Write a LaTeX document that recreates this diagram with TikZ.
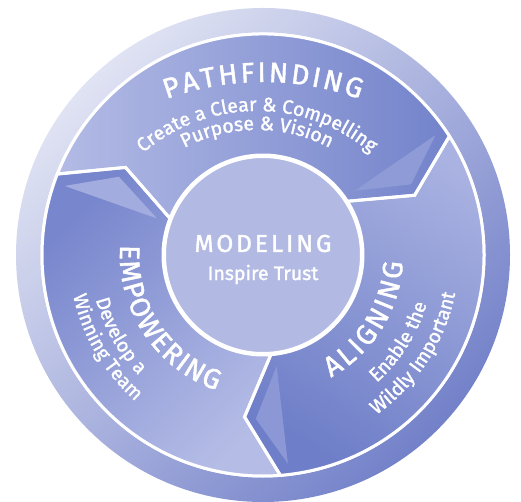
\documentclass[tikz,border=0pt]{standalone}
\usepackage{fontspec}
\setmainfont{Fira Sans}
\usetikzlibrary{decorations.text}
\definecolor{ringlight}{HTML}{E0E3F3}
\definecolor{ringdark}{HTML}{7381C9}
\definecolor{pathlight}{HTML}{B3BBE5}
\definecolor{pathdark}{HTML}{7383CB}
\definecolor{alignlight}{HTML}{A9B2E1}
\definecolor{aligndark}{HTML}{6E7EC8}
\definecolor{empdark}{HTML}{7886CD}
\definecolor{emplight}{HTML}{B5BDE6}
\definecolor{centerfill}{HTML}{B2BAE3}
\definecolor{pathfacet}{HTML}{8F9BD6}
\definecolor{alignfacet}{HTML}{8C98D6}
\definecolor{empfacet}{HTML}{A3ACDE}
\newcommand\ttlfnt{\fontsize{28}{28}\selectfont\addfontfeature{FakeBold=1.6}}
\newcommand\subfnt{\fontsize{19.5}{19.5}\selectfont\addfontfeature{FakeBold=1.4}}
\tikzset{
  seg/.style n args={3}{insert path={(#1:221) arc[start angle=#1, end angle=#2, radius=221] -- (#3:163) -- (#2:100) arc[start angle=#2, end angle=#1, radius=100] -- ({#1-11}:163) -- cycle}},
  facetpath/.style n args={2}{insert path={({#1+2.3}:210) -- ({#2+4}:164) -- ({#1+2.5}:112) -- cycle}},
  segborder/.style={draw=white, line width=3, line join=miter},
  curvedtext/.style={decorate, decoration={text along path, text align=center, text={#1}}},
  spreadtext/.style={decorate, decoration={text along path, text align={fit to path}, text={#1}}},
}
\begin{document}
\begin{tikzpicture}[x=1pt,y=1pt]
\useasboundingbox (-263,-247) rectangle (258,255);
% outer band
\shade[top color=ringlight, bottom color=ringdark, shading angle=45] (0,0) circle[radius=247];
\draw[white, line width=3] (0,0) circle[radius=221];
% segments
\shade[left color=pathlight, right color=pathdark, seg={158.5}{32.5}{21.5}];
\shade[top color=alignlight, bottom color=aligndark, shading angle=-30, seg={32.5}{-85.5}{-96.5}];
\shade[top color=empdark, bottom color=emplight, shading angle=45, seg={274.5}{158.5}{147.5}];
% facets of arrow heads
\fill[pathfacet, facetpath={32.5}{21.5}];
\fill[alignfacet, facetpath={-85.5}{-96.5}];
\fill[empfacet, facetpath={158.5}{147.5}];
% borders
\path[segborder, seg={158.5}{32.5}{21.5}];
\path[segborder, seg={32.5}{-85.5}{-96.5}];
\path[segborder, seg={274.5}{158.5}{147.5}];
% hub
\node[circle, fill=centerfill, draw=white, line width=3, minimum size=197, inner sep=0] (hub) at (0,0) {};
\node[text=white, font=\fontsize{24.5}{24.5}\selectfont\addfontfeature{LetterSpace=12,FakeBold=1.5}] (modeling) at (0,11.5) {MODELING};
\node[text=white, font=\fontsize{19.5}{19.5}\selectfont\addfontfeature{FakeBold=1.4}] (inspire) at (0,-19.5) {Inspire Trust};
% PATHFINDING
\path[shift={(0,-109)}, spreadtext={|\ttlfnt\color{white}|PATHFINDING}] (110:282) arc[start angle=110, end angle=70, radius=282];
\path[shift={(-6,-31)}, curvedtext={|\subfnt\color{white}|Create a Clear {\&} Compelling}] (140:175) arc[start angle=140, end angle=40, radius=175];
\path[shift={(-6,-31)}, curvedtext={|\subfnt\color{white}|Purpose {\&} Vision}] (137:156) arc[start angle=137, end angle=43, radius=156];
% EMPOWERING
\path[spreadtext={|\ttlfnt\color{white}|EMPOWERING}] (176:143) arc[start angle=176, end angle=251, radius=143];
\path[curvedtext={|\subfnt\color{white}|Develop a}] (190:173) arc[start angle=190, end angle=229, radius=173];
\path[curvedtext={|\subfnt\color{white}|Winning Team}] (180:194) arc[start angle=180, end angle=241, radius=194];
% ALIGNING
\path[spreadtext={|\ttlfnt\color{white}|ALIGNING}] (-61:140) arc[start angle=-61, end angle=-3, radius=140];
\path[curvedtext={|\subfnt\color{white}|Enable the}] (-57:171) arc[start angle=-57, end angle=-8, radius=171];
\path[curvedtext={|\subfnt\color{white}|Wildly Important}] (-63:196) arc[start angle=-63, end angle=-3, radius=196];
\end{tikzpicture}
\end{document}
